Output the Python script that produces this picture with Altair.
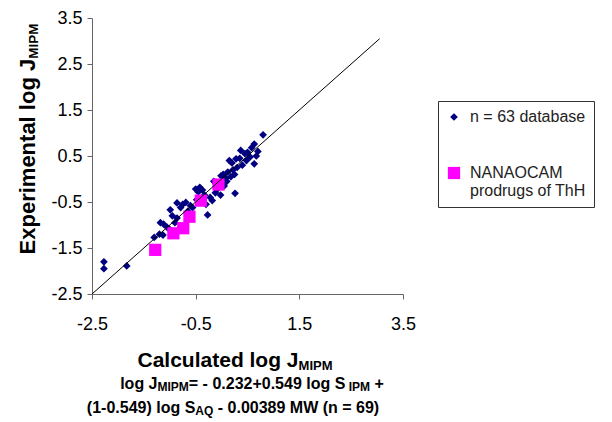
import altair as alt
import pandas as pd

# ---------------- data ----------------
db_x = [-2.27, -2.27, -1.83,
        -1.30, -1.20, -1.13, -1.18, -1.12, -1.05, -0.99, -0.95, -0.86, -0.86,
        -0.79, -0.75, -0.69, -0.65, -0.56, -0.60, -1.00, -0.90,
        -0.50, -0.45, -0.37, -0.42, -0.27, -0.18, -0.22, -0.12, -0.08, -0.10,
        -0.01, 0.03, 0.08, 0.10, 0.05, 0.26, 0.15, 0.20, 0.22, 0.28,
        0.30, 0.25, 0.18, 0.35, 0.37, 0.45, 0.50, 0.48, 0.55, 0.63,
        0.63, 0.70, 0.67, 0.80, -0.30, -0.02, 0.12, 0.40, -0.48, -0.15,
        -0.33, 0.58]
db_y = [-1.80, -1.95, -1.89,
        -1.27, -1.20, -1.22, -0.95, -0.98, -1.05, -0.67, -0.80, -0.52, -0.85,
        -0.62, -0.55, -0.51, -0.70, -0.62, -0.58, -1.10, -0.95,
        -0.22, -0.28, -0.24, -0.18, -0.78, -0.47, -0.40, -0.30, -0.22, -0.10,
        0.07, 0.10, 0.02, -0.05, -0.15, -0.31, 0.40, 0.35, 0.20, 0.44,
        0.25, 0.10, 0.05, 0.45, 0.62, 0.55, 0.58, 0.40, 0.48, 0.76,
        0.33, 0.60, 0.50, 0.96, -0.55, -0.35, 0.15, 0.30, -0.45, -0.05,
        -0.35, 0.68]
nano_x = [-1.28, -0.93, -0.74, -0.62, -0.40, -0.06]
nano_y = [-1.54, -1.18, -1.07, -0.82, -0.47, -0.12]
series_names = ["n = 63 database", "NANAOCAM|prodrugs of ThH"]
line_x = [-2.5, 3.05]
line_y = [-2.5, 3.05]
x_ticks = [-2.5, -0.5, 1.5, 3.5]
y_ticks = [-2.5, -1.5, -0.5, 0.5, 1.5, 2.5, 3.5]

FONT = "Liberation Sans"

# Arial/Liberation Sans Bold advance widths (per 1000 em)
W = {" ": 278, "(": 333, ")": 333, "+": 584, "-": 333, ".": 278, "=": 584,
     "A": 722, "C": 722, "E": 667, "I": 278, "J": 556, "M": 833, "P": 667,
     "Q": 778, "S": 667, "W": 944, "a": 556, "c": 556, "d": 611, "e": 556,
     "g": 611, "i": 278, "l": 278, "m": 889, "n": 611, "o": 611, "p": 611,
     "r": 389, "t": 333, "u": 611, "x": 556}
for dgt in "0123456789":
    W[dgt] = 556


def tw(s, size):
    return sum(W.get(c, 556) for c in s) * size / 1000.0


one = pd.DataFrame({"k": [0]})


def rich(pieces, cx, cy, rotate=False):
    total = sum(tw(t, s) for t, s, d in pieces)
    layers = []
    pos = -total / 2.0
    for t, s, d in pieces:
        stripped = t.lstrip(" ")
        lead = tw(t[: len(t) - len(stripped)], s)
        txt = stripped.rstrip(" ")
        p = pos + lead
        if rotate:
            enc = dict(x=alt.value(cx + d), y=alt.value(cy - p))
        else:
            enc = dict(x=alt.value(cx + p), y=alt.value(cy + d))
        if txt:
            layers.append(
                alt.Chart(one).mark_text(
                    text=txt, fontSize=s, font=FONT, fontWeight="bold",
                    align="left", baseline="alphabetic", color="black",
                    angle=270 if rotate else 0,
                ).encode(**enc)
            )
        pos += tw(t, s)
    return layers


pts = pd.DataFrame({
    "x": db_x + nano_x,
    "y": db_y + nano_y,
    "series": [series_names[0]] * len(db_x) + [series_names[1]] * len(nano_x),
})
lines = pd.DataFrame({"x": line_x, "y": line_y})

xscale = alt.Scale(domain=[-2.5, 3.5], nice=False, zero=False)
yscale = alt.Scale(domain=[-2.5, 3.5], nice=False, zero=False)

nbsp = "\u00a0" * 9
leg = alt.Legend(
    title=None, orient="none", legendX=346, legendY=83,
    strokeColor="#333333", padding=8, rowPadding=40,
    labelFont=FONT, labelFontSize=16, labelColor="#222222",
    labelExpr="split(datum.label + '" + nbsp + "', '|')",
    labelLimit=400, symbolStrokeWidth=0, labelOffset=8,
)

points = alt.Chart(pts).mark_point(filled=True, opacity=1, strokeWidth=0).encode(
    x=alt.X("x:Q", scale=xscale,
            axis=alt.Axis(values=x_ticks, title=None, labelExpr="'' + datum.value",
                          labelPadding=16, labelFontSize=18, labelFlush=False)),
    y=alt.Y("y:Q", scale=yscale,
            axis=alt.Axis(values=y_ticks, title=None, labelExpr="'' + datum.value",
                          labelPadding=5, labelFontSize=18, labelFlush=False)),
    color=alt.Color("series:N", scale=alt.Scale(domain=series_names, range=["#000080", "#ff00ff"]), legend=leg),
    shape=alt.Shape("series:N", scale=alt.Scale(domain=series_names, range=["diamond", "square"]), legend=leg),
    size=alt.Size("series:N", scale=alt.Scale(domain=series_names, range=[60, 150]), legend=leg),
)

diag = alt.Chart(lines).mark_line(color="black", strokeWidth=1).encode(
    x=alt.X("x:Q", scale=xscale), y=alt.Y("y:Q", scale=yscale)
)

texts = []
texts += rich([("Experimental log J", 22, 0), ("MIPM", 13.5, 3)], -57, 121, rotate=True)
texts += rich([("Calculated log J", 21, 0), ("MIPM", 13, 3)], 143, 349)
texts += rich([("log J", 16, 0), ("MIPM", 12, 2), ("= - 0.232+0.549 log S", 16, 0),
               (" IPM", 12, 2), (" +", 16, 0)], 160, 371)
texts += rich([("(1-0.549) log S", 16, 0), ("AQ", 12, 2),
               (" - 0.00389 MW (n = 69)", 16, 0)], 141, 395)

chart = alt.layer(points, diag, *texts).properties(
    width=311, height=276,
    autosize=alt.AutoSizeParams(type="none"),
    padding={"left": 84, "top": 10, "right": 201, "bottom": 126},
).configure_view(stroke=None).configure_axis(
    grid=False, domainColor="#666666", tickColor="#666666", tickSize=5,
    labelFont=FONT, labelColor="black",
)

chart.save("out.html", embed_options={"renderer": "svg", "actions": False})
